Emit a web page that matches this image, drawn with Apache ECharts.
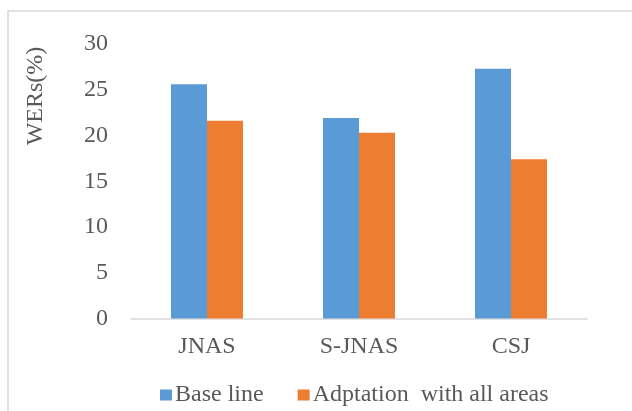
<!DOCTYPE html>
<html>
<head>
<meta charset="utf-8">
<script src="https://cdn.jsdelivr.net/npm/echarts@6/dist/echarts.min.js"></script>
<style>
  html, body { margin: 0; padding: 0; background: #fff; }
  #chart { width: 632px; height: 411px; }
</style>
</head>
<body>
<div id="chart"></div>
<script>
// Corpora compared
const categories = ['JNAS', 'S-JNAS', 'CSJ'];
// Word error rates (%) per corpus
const baseLine = [25.6, 21.9, 27.3];
const adaptationAllAreas = [21.6, 20.3, 17.4];
const seriesNames = ['Base line', 'Adptation  with all areas'];
const yAxisTitle = 'WERs(%)';

const FONT = 'Liberation Serif';
const TEXT = '#595959';

const chart = echarts.init(document.getElementById('chart'));
chart.setOption({
  animation: false,
  backgroundColor: '#ffffff',
  graphic: [
    {
      type: 'rect',
      shape: { x: 8, y: 11, width: 700, height: 500 },
      style: { fill: 'none', stroke: '#d9d9d9', lineWidth: 1.5 },
      silent: true
    },
    {
      type: 'text',
      x: 36,
      y: 96,
      rotation: Math.PI / 2,
      style: {
        text: yAxisTitle,
        font: '24px ' + FONT,
        fill: TEXT,
        align: 'center',
        verticalAlign: 'middle'
      },
      silent: true
    }
  ],
  grid: { left: 131, right: 45, top: 44, bottom: 92.5 },
  legend: {
    data: seriesNames,
    left: 155,
    top: 378,
    icon: 'rect',
    itemWidth: 12,
    itemHeight: 11,
    itemGap: 34,
    textStyle: { fontFamily: FONT, fontSize: 24, color: TEXT, padding: [0, 0, 0, -2] }
  },
  xAxis: {
    type: 'category',
    data: categories,
    axisLine: { lineStyle: { color: '#d9d9d9', width: 1.5 } },
    axisTick: { show: false },
    axisLabel: { fontFamily: FONT, fontSize: 24, color: TEXT, margin: 16 }
  },
  yAxis: {
    type: 'value',
    min: 0,
    max: 30,
    interval: 5,
    axisLine: { show: false },
    axisTick: { show: false },
    splitLine: { show: false },
    axisLabel: { fontFamily: FONT, fontSize: 24, color: TEXT, margin: 23 }
  },
  series: [
    {
      name: seriesNames[0],
      type: 'bar',
      data: baseLine,
      barWidth: 36,
      barGap: '0%',
      itemStyle: { color: '#5B9BD5' }
    },
    {
      name: seriesNames[1],
      type: 'bar',
      data: adaptationAllAreas,
      barWidth: 36,
      barGap: '0%',
      itemStyle: { color: '#ED7D31' }
    }
  ]
});
</script>
</body>
</html>
